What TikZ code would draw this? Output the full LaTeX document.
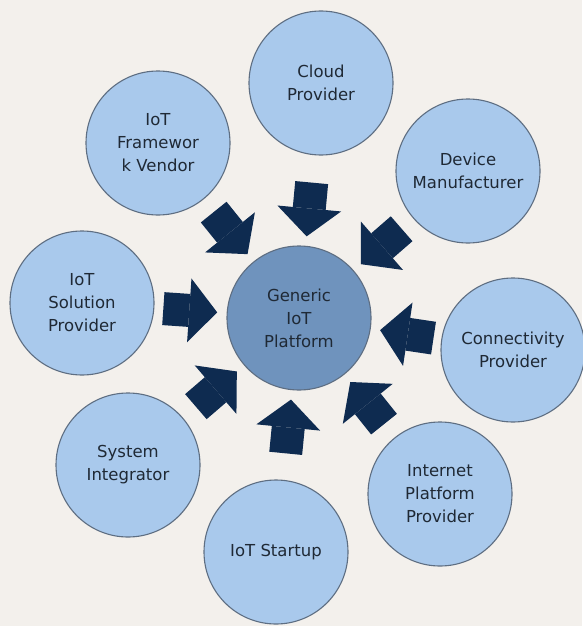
\documentclass[tikz,border=0pt]{standalone}
\usepackage{fontspec}
\setmainfont{DejaVu Sans}
\usetikzlibrary{calc,arrows.meta}
\definecolor{bgcol}{HTML}{F3F0EC}
\definecolor{outercol}{HTML}{A9C9EC}
\definecolor{innercol}{HTML}{6F93BD}
\definecolor{rimcol}{HTML}{5E6E82}
\definecolor{arrowcol}{HTML}{0E2B50}
\definecolor{txtcol}{HTML}{1F2935}

\begin{document}
\begin{tikzpicture}[x=1pt, y=-1pt, every node/.style={circle, draw=rimcol, line width=1.1pt, fill=outercol, minimum size=144pt, inner sep=0pt, align=center, text=txtcol, font=\fontsize{16.5}{23}\selectfont}, bigarrow/.style={draw=arrowcol, line width=33pt, -{Triangle[width=64pt, length=28pt, line width=0pt]}}]
    % Background
    \fill[bgcol] (0, 0) rectangle (582, 626);
    \useasboundingbox (0, 0) rectangle (582, 626);

    % Platform in the middle
    \node[fill=innercol] (gen) at (299, 318) {Generic\\IoT\\Platform};

    % Players around it
    \node (cloud) at (321, 83) {Cloud\\Provider};
    \node (device) at (468, 171) {Device\\Manufacturer};
    \node (conn) at (513, 350) {Connectivity\\Provider};
    \node (inet) at (440, 494) {Internet\\Platform\\Provider};
    \node (startup) at (276, 552) {IoT Startup};
    \node (sysint) at (128, 465) {System\\Integrator};
    \node (solution) at (82, 303) {IoT\\Solution\\Provider};
    \node (frame) at (158, 143) {IoT\\Framewor\\k Vendor};

    % Block arrows pointing in
    \foreach \src in {cloud, device, conn, inet, startup, sysint, solution, frame}
    \draw[bigarrow] ($(gen.center)!136pt!(\src.center)$) -- ($(gen.center)!82pt!(\src.center)$);
\end{tikzpicture}
\end{document}
